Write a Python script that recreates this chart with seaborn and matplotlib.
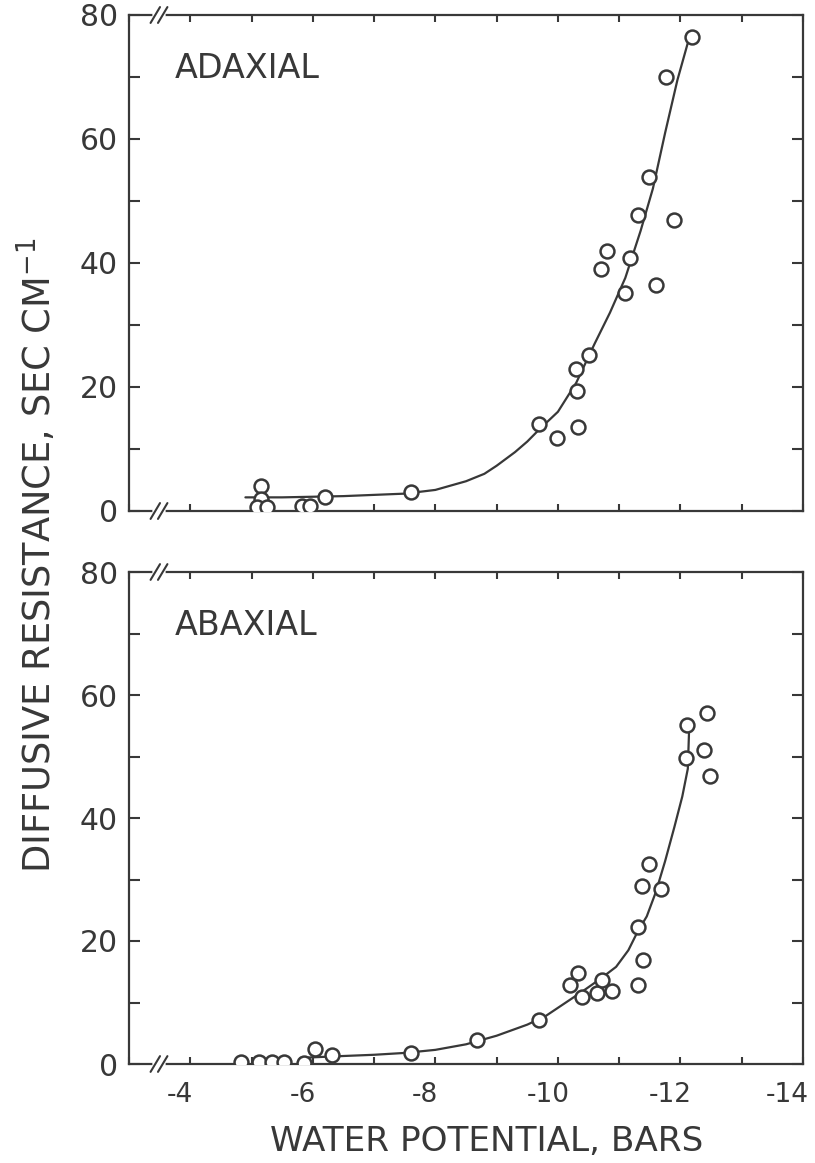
import matplotlib
matplotlib.use("Agg")
import matplotlib.pyplot as plt
import matplotlib.transforms as mtrans
import seaborn as sns
import pandas as pd
from matplotlib.ticker import MultipleLocator, FixedLocator, NullFormatter

# ---------------- data ----------------
# Adaxial (top panel) observations
adax_x = [-5.15, -5.15, -5.09, -5.26, -5.82, -5.96, -6.20, -7.60,
          -9.69, -9.99, -10.33, -10.31, -10.29, -10.51, -11.09, -10.70,
          -10.80, -11.18, -11.60, -11.30, -11.49, -11.89, -11.77, -12.19]
adax_y = [4.0, 2.0, 0.6, 0.6, 0.8, 0.8, 2.2, 3.0,
          14.0, 11.8, 13.5, 19.3, 22.9, 25.2, 35.2, 39.1,
          41.9, 40.8, 36.4, 47.7, 53.8, 47.0, 70.0, 76.5]
# Adaxial fitted curve
adax_cx = [-4.90, -5.50, -6.00, -6.50, -7.00, -7.50, -8.00, -8.50, -8.80,
           -9.00, -9.30, -9.50, -9.70, -10.00, -10.30, -10.60, -10.85,
           -11.10, -11.35, -11.55, -11.75, -11.95, -12.12]
adax_cy = [2.2, 2.2, 2.3, 2.4, 2.6, 2.8, 3.4, 4.8, 6.0,
           7.3, 9.5, 11.2, 13.2, 16.0, 20.7, 27.0, 32.0,
           37.6, 45.2, 52.0, 61.0, 69.5, 75.5]

# Abaxial (bottom panel) observations
abax_x = [-4.83, -5.12, -5.33, -5.53, -5.85, -6.04, -6.32, -7.60,
          -8.68, -9.69, -10.19, -10.33, -10.39, -10.64, -10.72, -10.88,
          -11.30, -11.39, -11.30, -11.38, -11.49, -11.69, -12.09, -12.10,
          -12.38, -12.43, -12.49]
abax_y = [0.4, 0.4, 0.4, 0.4, 0.2, 2.4, 1.4, 1.8,
          3.9, 7.2, 12.8, 14.8, 10.9, 11.5, 13.7, 11.9,
          12.9, 16.9, 22.3, 28.9, 32.6, 28.4, 49.8, 55.1,
          51.1, 57.0, 46.9]
# Abaxial fitted curve
abax_cx = [-5.80, -6.50, -7.00, -7.50, -8.00, -8.50, -9.00, -9.50, -9.80,
           -10.10, -10.40, -10.70, -10.95, -11.15, -11.30, -11.45, -11.60,
           -11.75, -11.90, -12.03, -12.12, -12.14]
abax_cy = [1.0, 1.3, 1.5, 1.8, 2.3, 3.2, 4.6, 6.4, 7.8,
           9.8, 11.8, 13.9, 15.8, 18.5, 21.5, 24.0, 28.0,
           33.0, 38.5, 43.5, 48.0, 54.0]

panel_names = ["ADAXIAL", "ABAXIAL"]
x_ticks = [-4, -6, -8, -10, -12, -14]
x_ticklabels = ["-4", "-6", "-8", "-10", "-12", "-14"]
y_ticks = [0, 20, 40, 60, 80]
y_ticklabels = ["0", "20", "40", "60", "80"]
x_label = "WATER POTENTIAL, BARS"
y_label = "DIFFUSIVE RESISTANCE, SEC CM$^{-1}$"

# ---------------- styling ----------------
sns.set_theme(style="ticks")
plt.rcParams['font.family'] = ['DejaVu Sans']
plt.rcParams['axes.unicode_minus'] = False
plt.rcParams['mathtext.default'] = 'regular'
ink = "#383838"

W, H = 815, 1163
fig = plt.figure(figsize=(W / 100, H / 100), dpi=100)
fig.patch.set_facecolor("white")
L, R = 129, 803
ax1 = fig.add_axes([L / W, 1 - 511 / H, (R - L) / W, (511 - 15) / H])
ax2 = fig.add_axes([L / W, 1 - 1064 / H, (R - L) / W, (1064 - 572) / H])

panels = [
    (ax1, adax_x, adax_y, adax_cx, adax_cy, panel_names[0]),
    (ax2, abax_x, abax_y, abax_cx, abax_cy, panel_names[1]),
]

for i, (ax, px, py, cx, cy, name) in enumerate(panels):
    ax.set_facecolor("white")
    curve = pd.DataFrame({"x": cx, "y": cy})
    pts = pd.DataFrame({"x": px, "y": py})
    sns.lineplot(data=curve, x="x", y="y", ax=ax, sort=False, estimator=None,
                 color=ink, linewidth=1.6, zorder=2)
    sns.scatterplot(data=pts, x="x", y="y", ax=ax, marker="o", s=100,
                    facecolor="white", edgecolor=ink, linewidth=1.8, zorder=3)
    ax.set_xlim(-3.0, -14.0)
    ax.set_ylim(0, 80)
    ax.set_xlabel("")
    ax.set_ylabel("")
    for sp in ax.spines.values():
        sp.set_visible(True)
        sp.set_color(ink)
        sp.set_linewidth(1.6)
    ax.xaxis.set_major_locator(FixedLocator(x_ticks))
    ax.xaxis.set_minor_locator(MultipleLocator(1))
    ax.yaxis.set_major_locator(FixedLocator(y_ticks))
    ax.yaxis.set_minor_locator(MultipleLocator(10))
    ax.set_yticklabels(y_ticklabels)
    if i == 1:
        ax.set_xticklabels(x_ticklabels)
    else:
        ax.xaxis.set_major_formatter(NullFormatter())
    ax.tick_params(which="both", direction="in", width=1.5,
                   color=ink, top=True, right=True, labelcolor=ink)
    ax.tick_params(axis="x", which="both", length=5, labelsize=19, pad=13)
    ax.tick_params(axis="y", which="both", length=8, labelsize=21.5, pad=8)
    ax.text(0.068, 0.872, name, transform=ax.transAxes, fontsize=24,
            color=ink, ha="left", va="baseline")
    # axis break marks on top and bottom spines
    for yb in (0.0, 1.0):
        ax.plot([0.039, 0.050], [yb, yb], transform=ax.transAxes,
                color="white", linewidth=4, clip_on=False, zorder=5)
        for xc in (0.039, 0.050):
            ax.plot([xc - 0.007, xc + 0.007], [yb - 0.016, yb + 0.016],
                    transform=ax.transAxes, color=ink, linewidth=1.5,
                    clip_on=False, zorder=6)

# hand-lettered x labels sit slightly left of their ticks
labels = ax2.get_xticklabels()
for j, lab in enumerate(labels):
    dx = -16 if j == len(labels) - 1 else -10
    lab.set_transform(lab.get_transform() +
                      mtrans.ScaledTranslation(dx / 100, 0, fig.dpi_scale_trans))

fig.text(36.5 / W, 1 - 873 / H, y_label, rotation=90, fontsize=26.5, color=ink,
         ha="center", va="bottom")
fig.text(270 / W, 1 - 1141.5 / H, x_label, fontsize=24.7, color=ink,
         ha="left", va="center")

fig.savefig("out.png", dpi=100, facecolor="white")
